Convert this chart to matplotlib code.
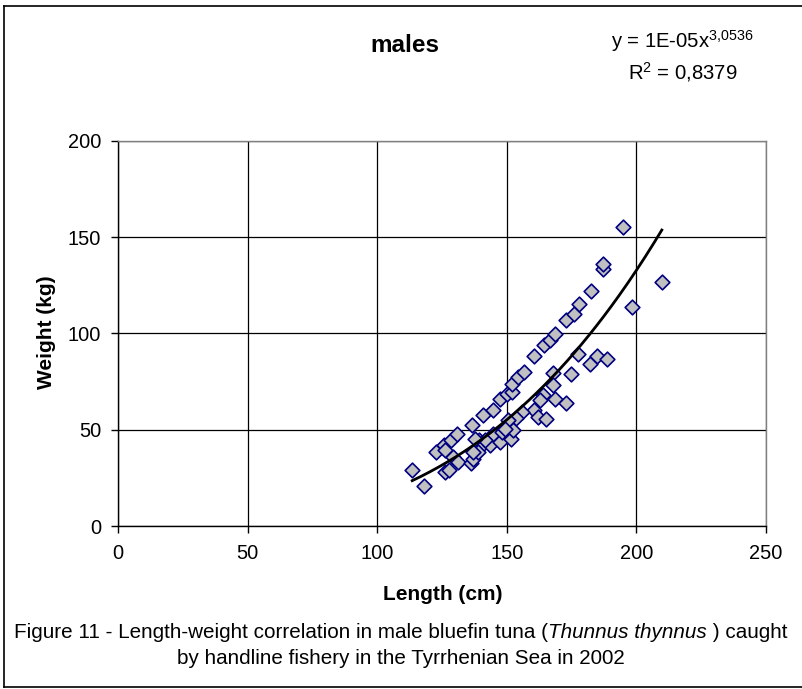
import numpy as np
import matplotlib
matplotlib.use("Agg")
import matplotlib.pyplot as plt
from matplotlib.lines import Line2D

plt.rcParams['font.family'] = ['Liberation Sans', 'DejaVu Sans']
plt.rcParams['mathtext.fontset'] = 'custom'
plt.rcParams['mathtext.rm'] = 'Liberation Sans'
plt.rcParams['mathtext.it'] = 'Liberation Sans:italic'
plt.rcParams['mathtext.bf'] = 'Liberation Sans:bold'

length_cm = [113.5, 118.2, 122.7, 125.9, 126.2, 128.5, 130.9, 136.5, 126.2, 127.8,
             129.4, 131.1, 136.3, 136.8, 139.4, 140.3, 139.0, 143.5, 144.8, 147.4,
             148.0, 151.5, 152.3, 140.7, 144.6, 147.4, 150.0, 151.9, 151.9, 154.4,
             156.8, 160.6, 164.5, 166.7, 168.6, 172.8, 175.9, 178.0, 182.4, 187.0,
             187.2, 194.9, 209.8, 198.2, 177.6, 182.1, 184.7, 188.8, 167.7, 174.7,
             167.9, 168.6, 172.8, 164.1, 162.8, 160.6, 162.2, 165.1, 155.7, 153.5,
             150.6, 149.3, 141.6, 137.7, 137.1]
weight_kg = [29.0, 20.7, 38.2, 42.0, 39.4, 44.9, 47.7, 52.5, 28.1, 29.0,
             35.6, 33.3, 32.8, 34.6, 44.6, 42.0, 38.5, 42.0, 47.7, 43.7,
             48.9, 45.1, 50.1, 57.9, 60.1, 66.2, 68.8, 69.6, 73.9, 77.4,
             79.9, 88.1, 93.8, 96.7, 99.5, 107.1, 110.2, 115.4, 121.9, 133.5,
             136.1, 155.1, 126.9, 113.6, 89.5, 84.3, 88.1, 86.9, 79.4, 79.1,
             73.1, 66.2, 63.9, 67.9, 65.3, 60.1, 56.6, 55.8, 59.2, 56.3,
             54.9, 50.6, 44.6, 45.4, 38.5]

# power trend line y = a * x^b
trend_a = 1.25e-05
trend_b = 3.0536

title = "males"
x_label = "Length (cm)"
y_label = "Weight (kg)"
x_ticks = [0, 50, 100, 150, 200, 250]
y_ticks = [0, 50, 100, 150, 200]

W, H = 803, 689
fig = plt.figure(figsize=(W / 100, H / 100), dpi=100)
fig.patch.set_facecolor('white')


def fx(px):
    return px / W


def fy(py):
    return 1 - py / H


# outer border (right edge is outside the image)
fig.add_artist(Line2D([fx(4.5), 1.0], [fy(5.5), fy(5.5)], color='black', lw=1.2, transform=fig.transFigure))
fig.add_artist(Line2D([fx(4.5), fx(4.5)], [fy(5.5), fy(687)], color='black', lw=1.2, transform=fig.transFigure))
fig.add_artist(Line2D([fx(4.5), 1.0], [fy(687), fy(687)], color='black', lw=1.2, transform=fig.transFigure))

left, right, top, bottom = 118, 766, 141, 526
ax = fig.add_axes([fx(left), fy(bottom), (right - left) / W, (bottom - top) / H])

x = np.array(length_cm)
y = np.array(weight_kg)
ax.scatter(x, y, marker='D', s=56, facecolor='#C0C0C0', edgecolor='#000080',
           linewidths=1.2, zorder=3)

xt = np.linspace(x.min(), x.max(), 200)
ax.plot(xt, trend_a * xt ** trend_b, color='black', lw=2.0, zorder=4)

ax.set_xlim(0, 250)
ax.set_ylim(0, 200)
ax.set_xticks(x_ticks)
ax.set_yticks(y_ticks)
ax.grid(True, color='black', lw=0.9)
ax.set_axisbelow(True)
for s in ['top', 'right']:
    ax.spines[s].set_color('#808080')
    ax.spines[s].set_linewidth(1.0)
for s in ['left', 'bottom']:
    ax.spines[s].set_color('black')
    ax.spines[s].set_linewidth(1.0)
ax.tick_params(axis='x', direction='out', length=5, width=1, labelsize=14.4, pad=8)
ax.tick_params(axis='y', direction='out', length=5, width=1, labelsize=14.4, pad=7)

ax.set_xlabel(x_label, fontsize=15, fontweight='bold')
ax.set_ylabel(y_label, fontsize=15, fontweight='bold')
ax.xaxis.set_label_coords((442.5 - left) / (right - left), (bottom - 594) / (bottom - top))
ax.yaxis.set_label_coords((46 - left) / (right - left), (bottom - 332) / (bottom - top))
ax.xaxis.label.set_va('center')
ax.yaxis.label.set_va('center')

fig.text(fx(405), fy(45), title, fontsize=17.5, fontweight='bold', ha='center', va='center')
fig.text(fx(682.5), fy(41), r"y = 1E-05x$^{3{,}0536}$", fontsize=14.6, ha='center', va='center')
fig.text(fx(683), fy(72), r"R$^{2}$ = 0,8379", fontsize=14.6, ha='center', va='center')

# caption line 1 composed of pieces (italic species name)
cap_fs = 14.9
cap_y1 = fy(632)
cap_y2 = fy(659)
t1 = "Figure 11 - Length-weight correlation in male bluefin tuna ("
t2 = "Thunnus thynnus"
t3 = " ) caught"
fig.canvas.draw()
r = fig.canvas.get_renderer()
a1 = fig.text(0, cap_y1, t1, fontsize=cap_fs, va='center')
a2 = fig.text(0, cap_y1, t2, fontsize=cap_fs, va='center', style='italic')
a3 = fig.text(0, cap_y1, t3, fontsize=cap_fs, va='center')
w1 = a1.get_window_extent(r).width
w2 = a2.get_window_extent(r).width
w3 = a3.get_window_extent(r).width
total = w1 + w2 + w3
start = 401 - total / 2
a1.set_x(fx(start))
a2.set_x(fx(start + w1))
a3.set_x(fx(start + w1 + w2))
fig.text(fx(401), cap_y2, "by handline fishery in the Tyrrhenian Sea in 2002",
         fontsize=cap_fs, ha='center', va='center')

fig.savefig("out.png", dpi=100, facecolor='white')
